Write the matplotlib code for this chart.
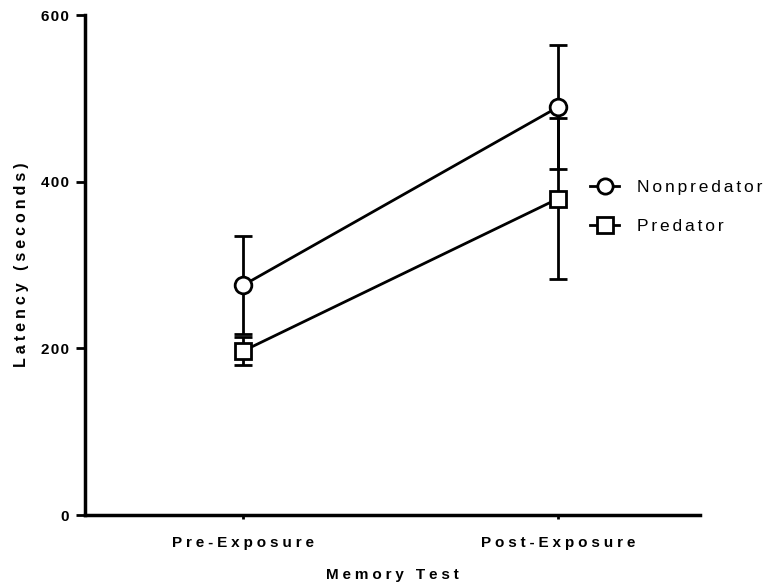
import matplotlib
matplotlib.use("Agg")
import matplotlib.pyplot as plt
from matplotlib.lines import Line2D

plt.rcParams['font.family'] = ['Liberation Sans', 'DejaVu Sans']

categories = ["Pre-Exposure", "Post-Exposure"]
series_names = ["Nonpredator", "Predator"]
nonpred_mean = [276, 490]
nonpred_sem = [59, 74]
pred_mean = [197, 380]
pred_sem = [17, 97]
yticks = [0, 200, 400, 600]
xlabel = "Memory Test"
ylabel = "Latency (seconds)"


def spaced(s, gap='\u2005'):
    return gap.join(s)


fig = plt.figure(figsize=(7.66, 5.88), dpi=100)
ax = fig.add_axes([0.111, 0.124, 0.803, 0.850])
x = list(range(len(categories)))

style = dict(color='black', lw=2, capsize=6.3, capthick=2, elinewidth=2,
             ms=12, mfc='white', mec='black', mew=2, zorder=3)
ax.errorbar(x, nonpred_mean, yerr=nonpred_sem, marker='o', **style)
ax.errorbar(x, pred_mean, yerr=pred_sem, marker='s', **style)

ax.set_xlim(-0.502, 1.45)
ax.set_ylim(0, 600)
ax.set_yticks(yticks)
ax.set_yticklabels([spaced(str(v), '\u200a') for v in yticks], fontweight='bold', fontsize=11)
ax.set_xticks(x)
ax.set_xticklabels([spaced(c) for c in categories], fontweight='bold', fontsize=11)
for s in ['top', 'right']:
    ax.spines[s].set_visible(False)
for s in ['left', 'bottom']:
    ax.spines[s].set_linewidth(2.5)
ax.tick_params(axis='y', width=2, length=6.5, pad=5)
ax.tick_params(axis='x', width=2, length=3, pad=12)
ax.set_ylabel(spaced(ylabel), fontweight='bold', fontsize=11.5, labelpad=9)
ax.set_xlabel(spaced(xlabel), fontweight='bold', fontsize=11, labelpad=13)

handles = [
    Line2D([], [], color='black', lw=2, marker='o', ms=11, mfc='white', mec='black', mew=2),
    Line2D([], [], color='black', lw=2, marker='s', ms=11, mfc='white', mec='black', mew=2),
]
fig.legend(handles, [spaced(n, '\u2006') for n in series_names], loc='upper left',
           bbox_to_anchor=(0.770, 0.6945), frameon=False, fontsize=12.5,
           handlelength=1.7, handletextpad=1.0, labelspacing=1.4,
           borderpad=0, borderaxespad=0)

fig.savefig("out.png", dpi=100)
